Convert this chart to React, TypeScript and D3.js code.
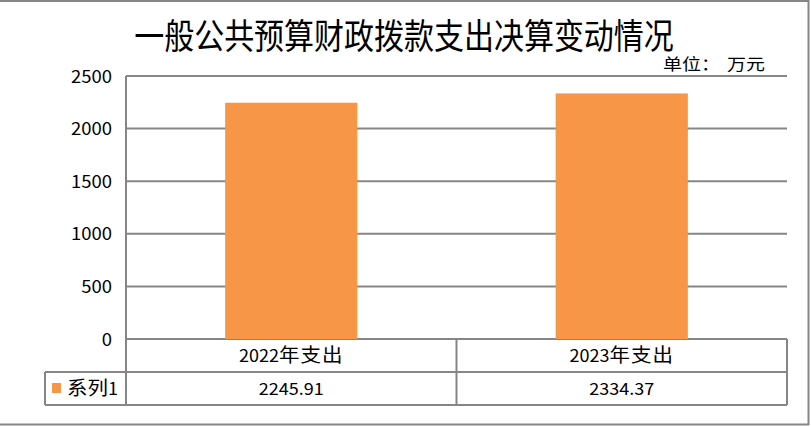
import React from "react";
import * as d3 from "d3";

const categories = ["2022年支出", "2023年支出"];
const values = [2245.91, 2334.37];
const seriesName = "系列1";
const yTicks = [0, 500, 1000, 1500, 2000, 2500];
const title = "一般公共预算财政拨款支出决算变动情况";
const unitLabel = "单位：";
const unitValue = "万元";

const W = 811;
const H = 427;
const plot = { left: 126, right: 787, top: 76, bottom: 339 };
const rowH = 33;
const legendLeft = 45;
const GRID = "#868686";
const BAR = "#F79646";
const FONT = "'Noto Sans CJK SC', 'Noto Sans', sans-serif";

// split a string into runs of ASCII and CJK characters so CJK runs can be drawn wider
function runs(s: string) {
  const out: { t: string; cjk: boolean }[] = [];
  for (const ch of s) {
    const cjk = ch.charCodeAt(0) > 255;
    const last = out[out.length - 1];
    if (last && last.cjk === cjk) last.t += ch;
    else out.push({ t: ch, cjk });
  }
  return out;
}

function Txt({ x, y, size, cjkSize, ls = 0, anchor = "start", sy = 0.93, sx = 1, children }: any) {
  const s = String(children);
  return (
    <g transform={`translate(${x},${y}) scale(${sx},${sy})`}>
      <text x={0} y={0} textAnchor={anchor} fontSize={size} fill="#000">
        {runs(s).map((r, i) => (
          <tspan key={i} fontSize={r.cjk && cjkSize ? cjkSize : size} letterSpacing={r.cjk ? ls : 0}>
            {r.t}
          </tspan>
        ))}
      </text>
    </g>
  );
}

export default function App() {
  const x = d3
    .scaleBand<string>()
    .domain(categories)
    .range([plot.left, plot.right])
    .paddingInner(0.6)
    .paddingOuter(0.3);
  const xCell = d3.scaleBand<string>().domain(categories).range([plot.left, plot.right]);
  const y = d3.scaleLinear().domain([0, 2500]).range([plot.bottom, plot.top]);
  const row1 = plot.bottom;
  const row2 = plot.bottom + rowH;
  const row3 = plot.bottom + rowH * 2;

  return (
    <svg
      width={W}
      height={H}
      style={{ position: "absolute", left: 0, top: 0, display: "block" }}
      fontFamily={FONT}
    >
      <rect x={0} y={0} width={W} height={H} fill="#fff" />
      {/* outer border */}
      <line x1={0} x2={809} y1={1} y2={1} stroke={GRID} strokeWidth={2} />
      <line x1={808.5} x2={808.5} y1={0} y2={425} stroke={GRID} strokeWidth={2} />
      <line x1={0} x2={809} y1={424.5} y2={424.5} stroke={GRID} strokeWidth={2} />

      <Txt x={404} y={49} size={30} anchor="middle" sy={1.17}>
        {title}
      </Txt>
      <g transform="translate(663,70) scale(1,0.86)">
        <text x={0} y={0} fontSize={19} fill="#000">
          <tspan>{unitLabel}</tspan>
          <tspan dx={7}>{unitValue}</tspan>
        </text>
      </g>

      {/* grid */}
      {yTicks.map((t) => (
        <line key={t} x1={plot.left} x2={plot.right} y1={y(t)} y2={y(t)} stroke={GRID} strokeWidth={2} />
      ))}
      {yTicks.map((t) => (
        <Txt key={"l" + t} x={112} y={y(t) + 6.5} size={18.5} anchor="end">
          {t}
        </Txt>
      ))}

      {/* bars */}
      {categories.map((c, i) => (
        <rect key={c} x={x(c)} y={y(values[i])} width={x.bandwidth()} height={y(0) - y(values[i])} fill={BAR} />
      ))}

      {/* axis line */}
      <line x1={plot.left} x2={plot.left} y1={plot.top} y2={row3} stroke={GRID} strokeWidth={2} />

      {/* data table */}
      <line x1={plot.left} x2={plot.right} y1={row2} y2={row2} stroke={GRID} strokeWidth={2} />
      <line x1={legendLeft} x2={plot.right} y1={row2} y2={row2} stroke={GRID} strokeWidth={2} />
      <line x1={legendLeft} x2={plot.right} y1={row3} y2={row3} stroke={GRID} strokeWidth={2} />
      <line x1={legendLeft} x2={legendLeft} y1={row2} y2={row3} stroke={GRID} strokeWidth={2} />
      {categories.map((c) => (
        <line key={"v" + c} x1={(xCell(c) as number) + xCell.bandwidth()} x2={(xCell(c) as number) + xCell.bandwidth()} y1={row1} y2={row3} stroke={GRID} strokeWidth={2} />
      ))}
      {categories.map((c, i) => (
        <g key={"t" + c}>
          <Txt x={(xCell(c) as number) + xCell.bandwidth() / 2} y={row1 + 23} size={18} cjkSize={20.5} ls={1} anchor="middle">
            {c}
          </Txt>
          <Txt x={(xCell(c) as number) + xCell.bandwidth() / 2} y={row2 + 23} size={18} anchor="middle">
            {values[i]}
          </Txt>
        </g>
      ))}
      <rect x={52} y={row2 + 11} width={9} height={10} fill={BAR} />
      <Txt x={67} y={row2 + 23} size={18} cjkSize={20.5}>
        {seriesName}
      </Txt>
    </svg>
  );
}
